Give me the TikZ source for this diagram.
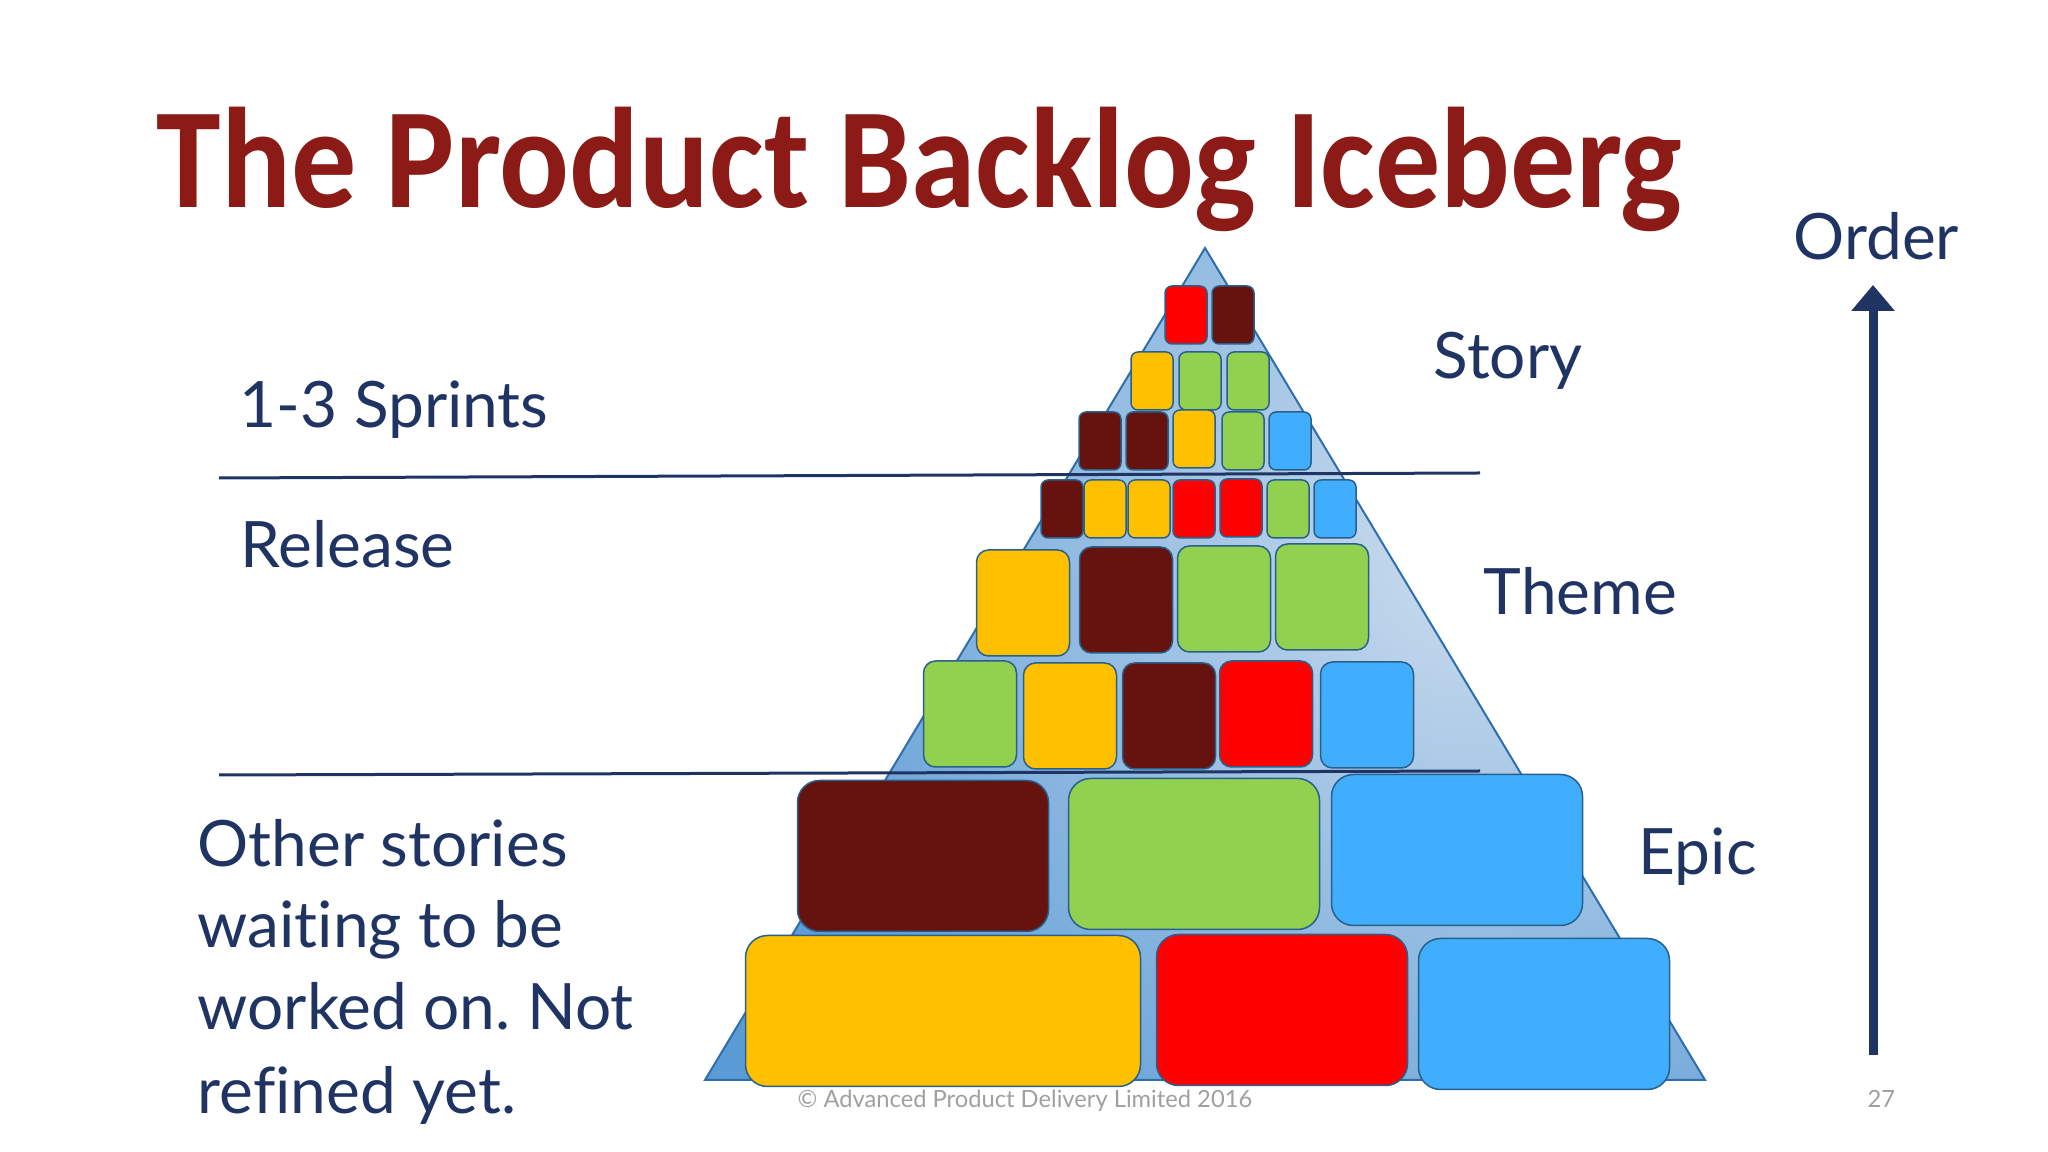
\documentclass[tikz,border=0pt]{standalone}
\usepackage{fontspec}
\setmainfont{Lato}[Ligatures=NoCommon]
\newfontfamily\titlefont{Carlito}
\usepackage{tikz}
\usetikzlibrary{arrows.meta}
\definecolor{navy}{RGB}{32,52,100}
\definecolor{titlered}{RGB}{140,26,22}
\definecolor{footgray}{RGB}{160,160,160}
\definecolor{pyrblue}{RGB}{91,155,213}
\definecolor{pyrlight}{RGB}{205,221,238}
\definecolor{pyredge}{RGB}{46,110,170}
\definecolor{edgeblue}{RGB}{40,96,140}
\definecolor{cred}{RGB}{255,0,0}
\definecolor{cdark}{RGB}{102,18,14}
\definecolor{cyellow}{RGB}{255,192,0}
\definecolor{cgreen}{RGB}{146,208,80}
\definecolor{cblue}{RGB}{64,174,252}
\frenchspacing
\tikzset{
sb/.style={
  draw=edgeblue,
  line width=0.15mm,
  rounded corners=0.7mm,
  inner sep=0pt,
  minimum width=4.2mm,
  minimum height=5.8mm
  },
mb/.style={sb, rounded corners=1.2mm, minimum width=9.3mm, minimum height=10.6mm},
bb/.style={sb, rounded corners=2.2mm, minimum width=25.1mm, minimum height=15.1mm},
lbl/.style={text=navy, inner sep=0pt, anchor=base west, font=\fontsize{18.2}{23.3}\selectfont},
sep/.style={draw=navy, line width=0.3mm}
}

\begin{document}
\begin{tikzpicture}[x=0.1mm,y=-0.1mm]
        \useasboundingbox[fill=white] (0,0) rectangle (2048,1152);
        % iceberg
        \coordinate (top) at (1205,248);
        \coordinate (bl) at (705,1080);
        \coordinate (br) at (1705,1080);
        \path[fill=pyrblue,draw=pyredge,line width=0.2mm,
          path picture={\shade[inner color=pyrlight,outer color=pyrblue] (1480,540) circle (80mm);}]
          (top) -- (bl) -- (br) -- cycle;
        % stories
        \node[sb,fill=cred] at (1186,315) (1a) {};
        \node[sb,fill=cdark] at (1233,315) (1b) {};
        \node[sb,fill=cyellow] at (1152,381) (2a) {};
        \node[sb,fill=cgreen] at (1200,381) (2b) {};
        \node[sb,fill=cgreen] at (1248,381) (2c) {};
        \node[sb,fill=cdark] at (1100,441) (3a) {};
        \node[sb,fill=cdark] at (1147,441) (3b) {};
        \node[sb,fill=cyellow] at (1194,439) (3c) {};
        \node[sb,fill=cgreen] at (1243,441) (3d) {};
        \node[sb,fill=cblue] at (1290,441) (3e) {};
        \node[sb,fill=cdark] at (1062,509) (4a) {};
        \node[sb,fill=cyellow] at (1105,509) (4b) {};
        \node[sb,fill=cyellow] at (1149,509) (4c) {};
        \node[sb,fill=cred] at (1194,509) (4d) {};
        \node[sb,fill=cred] at (1241,508) (4e) {};
        \node[sb,fill=cgreen] at (1288,509) (4f) {};
        \node[sb,fill=cblue] at (1335,509) (4g) {};
        % themes
        \node[mb,fill=cyellow] at (1023,603) (5a) {};
        \node[mb,fill=cdark] at (1126,600) (5b) {};
        \node[mb,fill=cgreen] at (1224,599) (5c) {};
        \node[mb,fill=cgreen] at (1322,597) (5d) {};
        \node[mb,fill=cgreen] at (970,714) (6a) {};
        \node[mb,fill=cyellow] at (1070,716) (6b) {};
        \node[mb,fill=cdark] at (1169,716) (6c) {};
        \node[mb,fill=cred] at (1266,714) (6d) {};
        \node[mb,fill=cblue] at (1367,715) (6e) {};
        % epics
        \node[bb,fill=cdark] at (923,856) (7a) {};
        \node[bb,fill=cgreen] at (1194,854) (7b) {};
        \node[bb,fill=cblue] at (1457,850) (7c) {};
        \node[bb,fill=cyellow,minimum width=39.5mm] at (943,1011) (8a) {};
        \node[bb,fill=cred] at (1282,1010) (8b) {};
        \node[bb,fill=cblue] at (1544,1014) (8c) {};
        % horizons
        \coordinate (s1) at (219,478);
        \coordinate (s2) at (1480,473);
        \coordinate (r1) at (219,775);
        \coordinate (r2) at (1480,771);
        \draw[sep] (s1) -- (s2);
        \draw[sep] (r1) -- (r2);
        % texts
        \node[anchor=base west,inner sep=0pt,text=titlered,font=\titlefont\bfseries\fontsize{40.7}{48}\selectfont]
          at (156,208) (title) {\scalebox{0.91}[1]{The Product Backlog Iceberg}};
        \node[lbl] at (239,428) (sprints) {1-3 Sprints};
        \node[lbl] at (240,568) (release) {Release};
        \node[lbl] at (1433,379) (story) {Story};
        \node[lbl] at (1483,615) (theme) {Theme};
        \node[lbl] at (1638,875) (epic) {Epic};
        \node[lbl] at (1793,260) (order) {Order};
        \node[lbl] at (197,867) (oth1) {Other stories};
        \node[lbl] at (197,948) (oth2) {waiting to be};
        \node[lbl] at (197,1030) (oth3) {worked on. Not};
        \node[lbl] at (197,1113) (oth4) {refined yet.};
        \node[anchor=base west,inner sep=0pt,text=footgray,font=\fontsize{6.75}{8}\selectfont]
          at (797,1107) (foot) {\textcopyright{} Advanced Product Delivery Limited 2016};
        \node[anchor=base west,inner sep=0pt,text=footgray,font=\fontsize{6.75}{8}\selectfont]
          at (1867,1107) (page) {27};
        % order arrow
        \coordinate (o1) at (1873,1055);
        \coordinate (o2) at (1873,285);
        \draw[navy,line width=0.9mm,-{Triangle[width=4.2mm,length=2.6mm]}] (o1) -- (o2);
    \end{tikzpicture}
\end{document}
